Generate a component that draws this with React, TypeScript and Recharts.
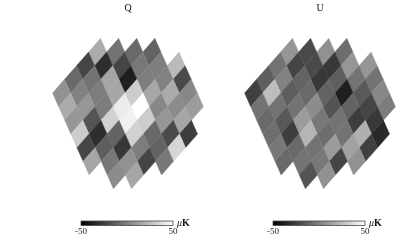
import React from "react";
import { ScatterChart, Scatter, XAxis, YAxis, AreaChart, Area, ReferenceArea, Customized } from "recharts";

// Pixel-lattice columns of the map patch and the first cell index in each column
const columns = [-4, -3, -2, -1, 0, 1, 2, 3];
const firstCell = [5, 3, 2, 1, 0, 0, 0, 0];

// Temperature in microkelvin for each cell, column by column
const qValues = [
  [23, -21, 3, 11],
  [-11, -1, 1, 17, 5, 15, -26],
  [-9, -3, -1, 15, 3, 9, -21, 34],
  [-5, -23, -38, 30, 50, 30, -9, -11, -3],
  [17, -32, 15, 15, 42, 44, 32, -1, -23],
  [-23, -5, -1, -1, 32, -11, -28, 7, 15],
  [-9, 1, 9, -17, -32, -13, -3, 5],
  [7, 17, 9, 30, -23, 15],
];
const uValues = [
  [9, -5, 3, -1],
  [-7, 9, -5, -15, -23, -28, -34],
  [7, -28, -13, -38, -11, -26, 19, -25],
  [-21, -21, -28, -11, -17, -5, -5, 13, 7],
  [9, -23, -11, -9, 5, -3, -7, 11, -23],
  [-5, 1, -13, -5, 11, 21, -5, -3, 7],
  [-13, 24, -5, -15, -26, -9, -5, -17],
  [-25, -5, -9, -7, -3, -9],
];
const scaleTicks = [-50, 50];
const scaleEnds = [{ t: -50, h: 1 }, { t: 50, h: 1 }];

const FONT = "'Liberation Serif', serif";
const A = [-12, 13.67];
const B = [6.1, 13.67];

const toCells = (values: number[][]) =>
  values.flatMap((col, c) =>
    col.map((v, k) => {
      const i = columns[c];
      const j = firstCell[c] + k;
      return { x: A[0] * i + B[0] * j, y: A[1] * i + B[1] * j, v };
    })
  );

const grey = (v: number) => {
  const g = Math.round(((v + 50) / 100) * 255);
  return `rgb(${g},${g},${g})`;
};

const Cell = (props: any) => {
  const { cx, cy, payload } = props;
  const dx1 = (A[0] + B[0]) / 2;
  const dy1 = (A[1] + B[1]) / 2;
  const dx2 = (B[0] - A[0]) / 2;
  const dy2 = (B[1] - A[1]) / 2;
  const pts = [
    [cx - dx1, cy - dy1],
    [cx + dx2, cy + dy2],
    [cx + dx1, cy + dy1],
    [cx - dx2, cy - dy2],
  ]
    .map((p) => p.join(","))
    .join(" ");
  const f = grey(payload.v);
  return <polygon points={pts} fill={f} stroke={f} strokeWidth={0.4} />;
};

function Panel({ title, left, values, id }: { title: string; left: number; values: number[][]; id: string }) {
  return (
    <>
      <div style={{ position: "absolute", left, top: 0 }}>
        <ScatterChart width={192} height={200} margin={{ top: 0, right: 0, bottom: 0, left: 0 }}>
          <XAxis type="number" dataKey="x" domain={[-85.6, 106.4]} hide />
          <YAxis type="number" dataKey="y" domain={[-52, 148]} reversed hide />
          <Scatter data={toCells(values)} shape={<Cell />} isAnimationActive={false} />
          <Customized
            component={() => (
              <text x={116} y={11} textAnchor="middle" fontFamily={FONT} fontSize={10} fill="#111">
                {title}
              </text>
            )}
          />
        </ScatterChart>
      </div>
      <div style={{ position: "absolute", left: left + 49, top: 214 }}>
        <AreaChart width={140} height={26} data={scaleEnds} margin={{ top: 7, right: 28, bottom: 0, left: 20 }}>
          <defs>
            <linearGradient id={id} x1="0" y1="0" x2="1" y2="0">
              <stop offset="0" stopColor="#000" />
              <stop offset="1" stopColor="#fff" />
            </linearGradient>
          </defs>
          <XAxis
            type="number"
            dataKey="t"
            domain={[-50, 50]}
            ticks={scaleTicks}
            axisLine={false}
            tickLine={false}
            interval={0}
            height={14.5}
            tickMargin={0}
            tick={{ fontFamily: FONT, fontSize: 9, fill: "#222", dy: -4 }}
          />
          <YAxis domain={[0, 1]} hide />
          <Area
            dataKey="h"
            type="linear"
            fill={`url(#${id})`}
            fillOpacity={1}
            stroke="none"
            dot={false}
            activeDot={false}
            isAnimationActive={false}
          />
          <ReferenceArea x1={-50} x2={50} y1={0} y2={1} fill="none" stroke="#444" strokeWidth={0.8} />
          <Customized
            component={() => (
              <text x={116} y={12} fontFamily={FONT} fontSize={10} fill="#111">
                <tspan fontStyle="italic">μ</tspan>
                <tspan fontWeight="bold">K</tspan>
              </text>
            )}
          />
        </AreaChart>
      </div>
    </>
  );
}

export default function App() {
  return (
    <div style={{ position: "absolute", left: 0, top: 0, width: 416, height: 240, background: "#fff", overflow: "hidden", filter: "blur(0.35px)" }}>
      <Panel title="Q" left={12} values={qValues} id="barQ" />
      <Panel title="U" left={204} values={uValues} id="barU" />
    </div>
  );
}
